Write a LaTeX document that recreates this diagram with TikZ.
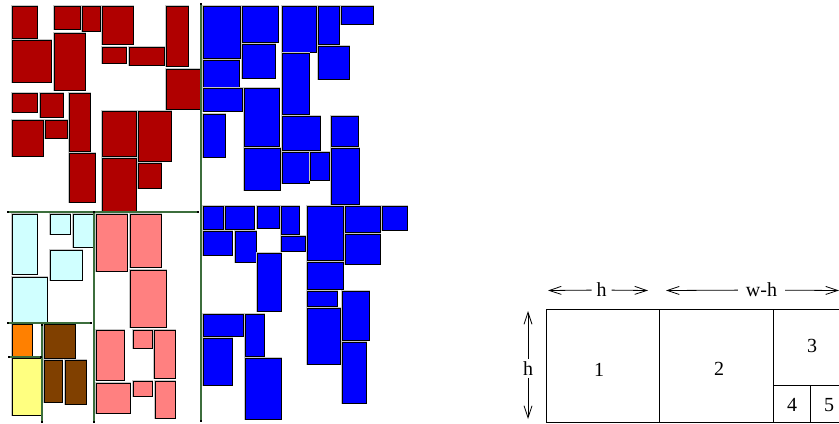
\documentclass[tikz,border=0pt]{standalone}
\usepackage{fontspec}
\setmainfont{Liberation Serif}
\usetikzlibrary{arrows.meta}
\definecolor{cRed}{RGB}{176,0,0}
\definecolor{cBlue}{RGB}{0,0,255}
\definecolor{cCyan}{RGB}{208,255,255}
\definecolor{cPink}{RGB}{255,128,128}
\definecolor{cOrange}{RGB}{255,128,0}
\definecolor{cYellow}{RGB}{255,255,128}
\definecolor{cBrown}{RGB}{128,64,0}
\definecolor{cGreen}{RGB}{60,110,60}
\tikzset{
  box/.style={draw=black,line width=1bp,preaction={draw=gray!45,line width=2.4bp}},
  cut/.style={draw=cGreen,line width=1.5bp},
  dotend/.style={fill=black,inner sep=0pt,minimum size=2.6bp,shape=rectangle},
  frame/.style={draw=black,line width=0.9bp},
  lbl/.style={inner sep=0pt,font=\fontsize{20bp}{23bp}\selectfont},
  arr/.style={draw=black,line width=0.8bp,-{Straight Barb[length=12bp,width=8bp]}}
}
\begin{document}
\begin{tikzpicture}[x=1bp,y=-1bp]
\useasboundingbox (0,0) rectangle (839,423);
\clip (0,0) rectangle (839,423);
% red
\foreach \a/\b/\c/\d in {12/6/37/38,54/6/80/29,82/6/100/31,102/6/133/44,166/6/188/66,
  12/40/51/82,54/33/85/90,102/47/126/63,129/47/164/65,166/69/201/109,
  12/93/37/112,40/93/63/117,69/93/90/151,12/120/43/156,45/120/67/138,
  102/111/136/156,138/111/171/161,69/153/95/202,102/158/136/212,138/163/161/188}
  \path[box,fill=cRed] (\a,\b) rectangle (\c,\d);
% blue top
\foreach \a/\b/\c/\d in {203/6/240/58,242/6/278/42,282/6/316/52,318/6/339/44,341/6/373/24,
  242/44/275/78,203/60/239/87,282/53/309/114,318/46/349/79,203/88/242/111,
  244/88/279/146,203/114/225/157,282/116/320/150,331/116/358/146,244/148/280/190,
  282/152/309/183,310/152/329/180,331/148/359/204}
  \path[box,fill=cBlue] (\a,\b) rectangle (\c,\d);
% blue bottom
\foreach \a/\b/\c/\d in {203/206/223/229,225/206/254/229,257/206/279/228,281/206/299/234,
  307/206/343/260,345/206/380/232,382/206/407/230,203/231/232/255,235/231/256/262,
  281/236/305/251,345/234/380/264,257/253/281/311,307/262/343/289,307/291/337/306,
  342/291/369/340,203/314/243/336,245/314/264/356,307/308/340/364,203/338/232/385,
  342/342/366/403,245/358/281/419}
  \path[box,fill=cBlue] (\a,\b) rectangle (\c,\d);
% cyan
\foreach \a/\b/\c/\d in {12/214/37/274,50/214/70/234,73/214/94/247,50/250/82/280,12/277/47/322}
  \path[box,fill=cCyan] (\a,\b) rectangle (\c,\d);
% pink
\foreach \a/\b/\c/\d in {96/214/127/271,130/214/161/267,130/270/166/327,96/330/124/380,
  133/330/152/348,154/330/175/378,96/383/130/413,133/381/152/396,155/381/175/418}
  \path[box,fill=cPink] (\a,\b) rectangle (\c,\d);
% orange, yellow, brown
\path[box,fill=cOrange] (12,324) rectangle (32,356);
\path[box,fill=cYellow] (12,358) rectangle (41,415);
\foreach \a/\b/\c/\d in {44/324/75/358,44/360/62/402,65/360/86/404}
  \path[box,fill=cBrown] (\a,\b) rectangle (\c,\d);
% green cut lines
\coordinate (v1a) at (201,4);   \coordinate (v1b) at (201,421);
\coordinate (h1a) at (8,212);   \coordinate (h1b) at (198,212);
\coordinate (v2a) at (94,212);  \coordinate (v2b) at (94,422);
\coordinate (h2a) at (8,323);   \coordinate (h2b) at (91,323);
\coordinate (v3a) at (42,325);  \coordinate (v3b) at (42,422);
\coordinate (h3a) at (9,357);   \coordinate (h3b) at (41,357);
\foreach \p/\q in {v1a/v1b,h1a/h1b,v2a/v2b,h2a/h2b,v3a/v3b,h3a/h3b}{
  \draw[cut] (\p) -- (\q);
  \node[dotend] at (\p) {};
  \node[dotend] at (\q) {};
}
% right diagram
\draw[frame] (546,309) -- (845,309);
\draw[frame] (546,422) -- (845,422);
\draw[frame] (546,309) -- (546,422);
\draw[frame] (659,309) -- (659,422);
\draw[frame] (773,309) -- (773,422);
\draw[frame] (773,385) -- (845,385);
\draw[frame] (810,385) -- (810,422);
\node[lbl] (n1) at (599,370) {1};
\node[lbl] (n2) at (719,369) {2};
\node[lbl] (n3) at (812,346) {3};
\node[lbl] (n4) at (792,405) {4};
\node[lbl] (n5) at (829,405) {5};
% dimension labels
\node[lbl,outer xsep=5bp] (th) at (601.5,290) {h};
\coordinate (thl) at (548,290.5);
\coordinate (thr) at (648,290.5);
\draw[arr] (th) -- (thl);
\draw[arr] (th) -- (thr);
\node[lbl,outer xsep=8bp] (twh) at (761.5,290) {w-h};
\coordinate (twhl) at (666,290.5);
\coordinate (twhr) at (839,290.5);
\draw[arr] (twh) -- (twhl);
\draw[arr] (twh) -- (twhr);
\node[lbl,outer ysep=2.5bp] (lh) at (528,368.5) {h};
\coordinate (lht) at (528,311);
\coordinate (lhb) at (528,419);
\draw[arr] (lh) -- (lht);
\draw[arr] (lh) -- (lhb);
\end{tikzpicture}
\end{document}
